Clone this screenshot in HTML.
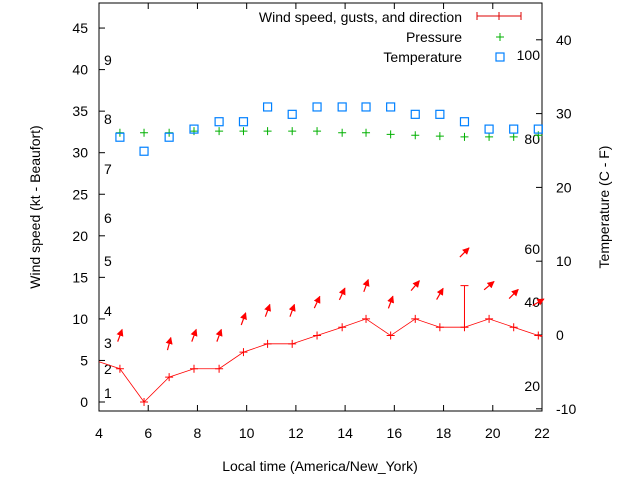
<!DOCTYPE html>
<html><head><meta charset="utf-8"><style>
body{margin:0;background:#fff}
svg{display:block;font-family:"Liberation Sans",sans-serif;font-size:14px}
</style></head><body>
<svg id="chart" width="640" height="480" viewBox="0 0 640 480">
<defs><marker id="ah" viewBox="0 0 10 10" refX="9" refY="5" markerWidth="6" markerHeight="6" orient="auto"><path d="M0,0L10,5L0,10z" fill="#f00"/></marker></defs>
<g id="grid"></g>
<rect x="99" y="3" width="443" height="408" fill="none" stroke="#000"/>
<text transform="translate(40,207) rotate(-90)" text-anchor="middle">Wind speed (kt - Beaufort)</text>
<text transform="translate(609,207) rotate(-90)" text-anchor="middle">Temperature (C - F)</text>
<text x="320" y="471" text-anchor="middle">Local time (America/New_York)</text>
<g>
<text x="462" y="22" text-anchor="end">Wind speed, gusts, and direction</text>
<text x="462" y="42" text-anchor="end">Pressure</text>
<text x="462" y="62" text-anchor="end">Temperature</text>
<path d="M477,16H521M477,12V20M499,12V20M521,12V20" stroke="#d00" fill="none"/>
<path d="M500,33V41M496,37H504" stroke="#00b000"/>
<rect x="496" y="53" width="8" height="8" fill="none" stroke="#0080ff" stroke-width="1.2"/>
</g>
<g id="marks"></g>
</svg>
<script>
const times=[4.85,5.83,6.85,7.86,8.88,9.87,10.85,11.85,12.86,13.88,14.85,15.85,16.85,17.85,18.85,19.85,20.85,21.85];
const wind=[4,0,3,4,4,6,7,7,8,9,10,8,10,9,9,10,9,8];
const gust=[null,null,null,null,null,null,null,null,null,null,null,null,null,null,14,null,null,null];
const windDir=[20,null,15,20,20,20,20,20,25,25,20,20,40,30,45,50,45,60];
const pressure=[1016.4,1016.4,1016.4,1016.6,1016.6,1016.6,1016.6,1016.6,1016.6,1016.4,1016.4,1016.2,1016.1,1016,1015.9,1015.9,1015.9,1016.1];
const temp=[26.8,24.9,26.8,27.9,28.9,28.9,30.9,29.9,30.9,30.9,30.9,30.9,29.9,29.9,28.9,27.9,27.9,27.9];
const xTicks=[4,6,8,10,12,14,16,18,20,22];
const yTicks=[0,5,10,15,20,25,30,35,40,45];
const y2Ticks=[-10,0,10,20,30,40];
const beaufort=[["1",393],["2",369],["3",343],["4",311],["5",261],["6",218],["7",169],["8",119],["9",60]];
const fLabels=[["100",55],["80",139],["60",249],["40",302],["20",386]];
const X=t=>99+(t-4)*(443/18);
const Y=v=>402-v*8.31;
const Y2=c=>335-c*7.38;
const YP=p=>Y(p-984);
const NS='http://www.w3.org/2000/svg';
const g=document.getElementById('grid'),m=document.getElementById('marks');
function el(tag,at,par,txt){const e=document.createElementNS(NS,tag);for(const k in at)e.setAttribute(k,at[k]);if(txt!==undefined)e.textContent=txt;par.appendChild(e);return e;}
xTicks.forEach(t=>{const x=X(t);
 const a=el('path',{d:`M${x},411v-6M${x},3v6`,stroke:'#000'},g);
 
 const l=el('text',{x:x,y:438,'text-anchor':'middle'},g,String(t));
 });
yTicks.forEach(v=>{const y=Y(v);
 const a=el('path',{d:`M99,${y}h6`,stroke:'#000'},g);
 
 const l=el('text',{x:88,y:y+5,'text-anchor':'end'},g,String(v));
 });
y2Ticks.forEach(c=>{const y=Y2(c);
 const a=el('path',{d:`M542,${y}h-6`,stroke:'#000'},g);
 
 const l=el('text',{x:556,y:y+5},g,String(c));
 });
beaufort.forEach(b=>{const l=el('text',{x:104,y:b[1]+5},g,b[0]);
 });
fLabels.forEach(b=>{const l=el('text',{x:540,y:b[1]+5,'text-anchor':'end'},g,b[0]);
 });
let d=`M99,${Y(4.85)}`;times.forEach((t,i)=>{d+=`L${X(t)},${Y(wind[i])}`;});
d+=`L542,${Y(7.85)}`;
const wl=el('path',{d:d,stroke:'#f00',fill:'none','stroke-width':0.8},m);

times.forEach((t,i)=>{const x=X(t),y=Y(wind[i]);
 const p=el('path',{d:`M${x-4},${y}h8M${x},${y-4}v8`,stroke:'#f00'},m);
 
 let top=wind[i];
 if(gust[i]!=null){top=gust[i];const gy=Y(gust[i]);
  const gb=el('path',{d:`M${x},${y}V${gy}M${x-4},${gy}h8`,stroke:'#f00'},m);
  }
 if(windDir[i]!=null&&wind[i]>0){
 const cy=Y(top+4),r=windDir[i]*Math.PI/180,L=13;
 const dx=Math.sin(r)*L/2,dy=Math.cos(r)*L/2;
 const ar=el('line',{x1:x-dx,y1:cy+dy,x2:x+dx,y2:cy-dy,stroke:'#f00','stroke-width':1.2,'marker-end':'url(#ah)'},m);
 }
 const px=X(t),py=YP(pressure[i]);
 const pp=el('path',{d:`M${px-4},${py}h8M${px},${py-4}v8`,stroke:'#00b000'},m);
 
 const ty=Y2(temp[i]);
 const sq=el('rect',{x:px-4,y:ty-4,width:8,height:8,fill:'none',stroke:'#0080ff','stroke-width':1.2},m);
 
});
</script>
</body></html>
